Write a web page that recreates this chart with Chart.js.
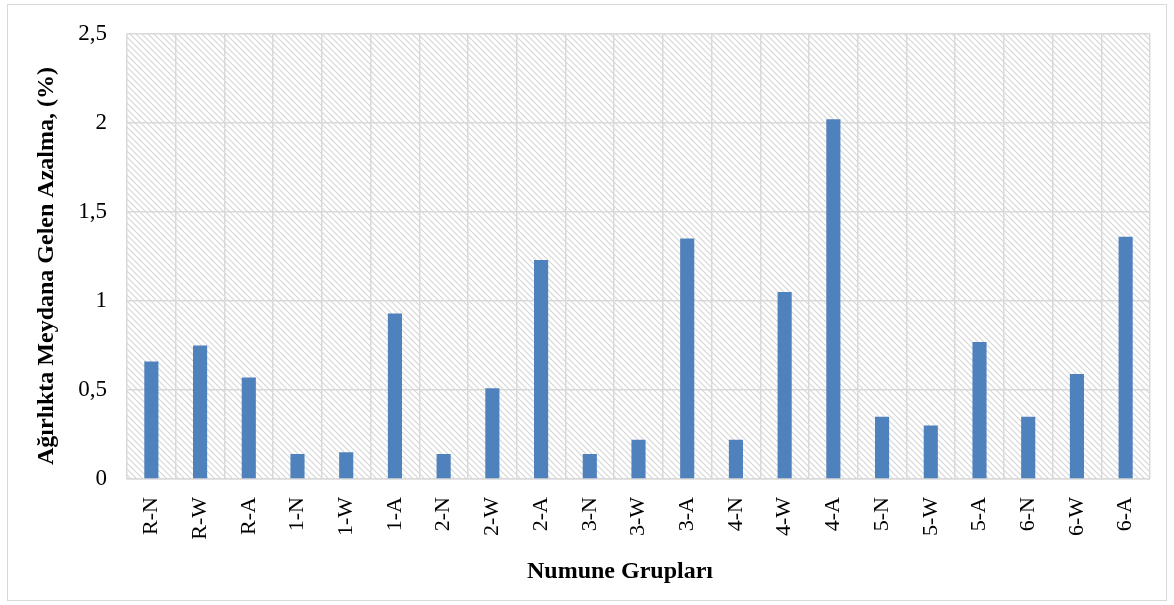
<!DOCTYPE html>
<html>
<head>
<meta charset="utf-8">
<script src="https://cdn.jsdelivr.net/npm/chart.js@4/dist/chart.umd.min.js"></script>
<style>
  html, body { margin: 0; padding: 0; background: #fff; }
  #wrap { width: 1174px; height: 605px; }
</style>
</head>
<body>
<div id="wrap"><canvas id="lossChart" width="1174" height="605"></canvas></div>
<script>
// Sample groups and weight loss (%)
const groups = ['R-N', 'R-W', 'R-A', '1-N', '1-W', '1-A', '2-N', '2-W', '2-A', '3-N', '3-W',
    '3-A', '4-N', '4-W', '4-A', '5-N', '5-W', '5-A', '6-N', '6-W', '6-A'];
const weightLoss = [0.66, 0.75, 0.57, 0.14, 0.15, 0.93, 0.14, 0.51, 1.23, 0.14, 0.22,
    1.35, 0.22, 1.05, 2.02, 0.35, 0.30, 0.77, 0.35, 0.59, 1.36];
const yTicks = [0, 0.5, 1, 1.5, 2, 2.5];

const xTitle = 'Numune Grupları';
const yTitle = 'Ağırlıkta Meydana Gelen Azalma, (%)';

const serif = "'Liberation Serif', 'Times New Roman', serif";

// Diagonal hatch used behind the bars
function makeHatch() {
    const s = 6;
    const c = document.createElement('canvas');
    c.width = s;
    c.height = s;
    const g = c.getContext('2d');
    g.fillStyle = '#ffffff';
    g.fillRect(0, 0, s, s);
    g.strokeStyle = '#d6d6d6';
    g.lineWidth = 1.2;
    g.beginPath();
    g.moveTo(-1, -1); g.lineTo(s + 1, s + 1);
    g.moveTo(-1, s - 1); g.lineTo(1, s + 1);
    g.moveTo(s - 1, -1); g.lineTo(s + 1, 1);
    g.stroke();
    return g.createPattern(c, 'repeat');
}

const hatchBackground = {
    id: 'hatchBackground',
    beforeDraw(chart) {
        const { ctx, chartArea } = chart;
        ctx.save();
        // outer frame
        ctx.strokeStyle = '#d9d9d9';
        ctx.lineWidth = 1;
        ctx.strokeRect(7.5, 4.5, chart.width - 15, chart.height - 9);
        // plot area hatch
        ctx.fillStyle = makeHatch();
        ctx.fillRect(chartArea.left, chartArea.top, chartArea.right - chartArea.left, chartArea.bottom - chartArea.top);
        ctx.restore();
    }
};

// Axis titles, placed by hand (they sit a bit off the plot centre)
const axisTitles = {
    id: 'axisTitles',
    afterDraw(chart) {
        const { ctx } = chart;
        ctx.save();
        ctx.fillStyle = '#000';
        ctx.font = 'bold 24px ' + serif;
        ctx.textAlign = 'center';
        ctx.textBaseline = 'middle';
        ctx.fillText(xTitle, 620, 572);
        ctx.translate(47, 266);
        ctx.rotate(-Math.PI / 2);
        ctx.fillText(yTitle, 0, 0);
        ctx.restore();
    }
};

const ctx = document.getElementById('lossChart').getContext('2d');
const lossChart = new Chart(ctx, {
    type: 'bar',
    data: {
        labels: groups,
        datasets: [{
            data: weightLoss,
            backgroundColor: '#4f81bd',
            borderWidth: 0,
            barPercentage: 0.58,
            categoryPercentage: 0.5
        }]
    },
    options: {
        responsive: false,
        animation: false,
        layout: {
            padding: { left: 33, right: 24, top: 32, bottom: 20 }
        },
        plugins: {
            legend: { display: false },
            tooltip: { enabled: false }
        },
        scales: {
            x: {
                grid: {
                    color: '#d9d9d9',
                    lineWidth: 1.5,
                    drawTicks: false,
                    offset: true
                },
                border: { display: true, color: '#d9d9d9', width: 1.5 },
                ticks: {
                    color: '#000',
                    font: { family: serif, size: 22 },
                    minRotation: 90,
                    maxRotation: 90,
                    padding: 18,
                    autoSkip: false
                },
                afterFit(scale) { scale.height = 106; }
            },
            y: {
                min: 0,
                max: 2.5,
                afterBuildTicks(scale) {
                    scale.ticks = yTicks.map(v => ({ value: v }));
                },
                grid: {
                    color: '#d9d9d9',
                    lineWidth: 1.5,
                    drawTicks: false
                },
                border: { display: false },
                ticks: {
                    color: '#000',
                    font: { family: serif, size: 23 },
                    padding: 20,
                    callback: v => String(v).replace('.', ',')
                },
                afterFit(scale) { scale.width = 94; }
            }
        }
    },
    plugins: [hatchBackground, axisTitles]
});
</script>
</body>
</html>
